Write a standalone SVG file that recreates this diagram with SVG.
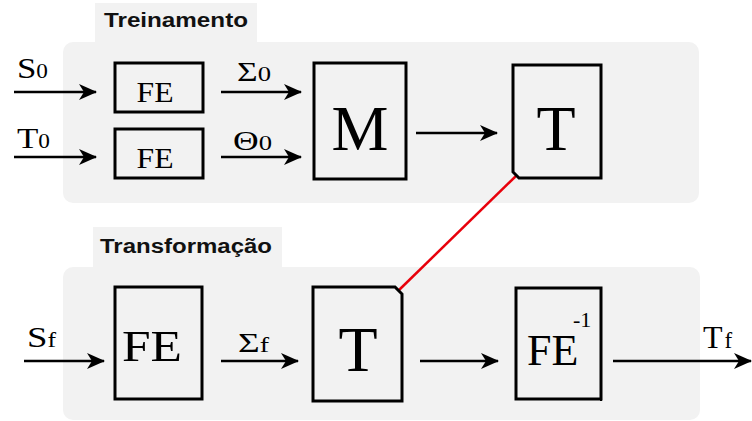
<svg xmlns="http://www.w3.org/2000/svg" width="752" height="421" viewBox="0 0 752 421">
<style>
.panel{fill:#f2f2f2;stroke:none}
.box{fill:none;stroke:#000;stroke-width:3}
.wire{fill:none;stroke:#000;stroke-width:2.5}
.title{font-family:"Liberation Sans",Arial,sans-serif;font-weight:bold;font-size:20px;fill:#111}
.serif{font-family:"Liberation Serif","Times New Roman",serif;fill:#000}
</style>
<defs>
<marker id="ah" markerUnits="userSpaceOnUse" markerWidth="20" markerHeight="16" refX="17" refY="8" orient="auto">
<path d="M0,0 L18,8 L0,16 L5,8 Z" fill="#000"/>
</marker>
</defs>
<g id="panel-treinamento">
<rect class="panel" x="63" y="42" width="636" height="161" rx="10"/>
<rect class="panel" x="95" y="3" width="162" height="42"/>
<text class="title" x="104" y="27" textLength="144" lengthAdjust="spacingAndGlyphs">Treinamento</text>
</g>
<g id="panel-transformacao">
<rect class="panel" x="63" y="267" width="637" height="153" rx="10"/>
<rect class="panel" x="93" y="227" width="189" height="44"/>
<text class="title" x="100" y="253" textLength="172" lengthAdjust="spacingAndGlyphs">Transformação</text>
</g>
<g id="connectors">
<line class="wire" x1="14" y1="92" x2="96" y2="92" marker-end="url(#ah)"/>
<line class="wire" x1="14" y1="157" x2="96" y2="157" marker-end="url(#ah)"/>
<line class="wire" x1="221" y1="92" x2="301" y2="92" marker-end="url(#ah)"/>
<line class="wire" x1="221" y1="157" x2="301" y2="157" marker-end="url(#ah)"/>
<line class="wire" x1="416" y1="133" x2="497" y2="133" marker-end="url(#ah)"/>
<line class="wire" x1="24" y1="361" x2="104" y2="361" marker-end="url(#ah)"/>
<line class="wire" x1="221" y1="361" x2="298" y2="361" marker-end="url(#ah)"/>
<line class="wire" x1="420" y1="361" x2="498" y2="361" marker-end="url(#ah)"/>
<line class="wire" x1="613" y1="361" x2="751" y2="361" marker-end="url(#ah)"/>
<line x1="517" y1="175" x2="398" y2="291" stroke="#e8000b" stroke-width="2.5"/>
<text class="serif" x="17" y="78" font-size="30" textLength="31" lengthAdjust="spacingAndGlyphs">S<tspan font-size="20">0</tspan></text>
<text class="serif" x="17" y="148" font-size="30" textLength="33" lengthAdjust="spacingAndGlyphs">T<tspan font-size="20">0</tspan></text>
<text class="serif" x="237" y="81" font-size="28" textLength="34" lengthAdjust="spacingAndGlyphs">Σ<tspan font-size="21">0</tspan></text>
<text class="serif" x="233" y="150" font-size="28" textLength="39" lengthAdjust="spacingAndGlyphs">Θ<tspan font-size="21">0</tspan></text>
<text class="serif" x="27" y="347" font-size="30" textLength="29" lengthAdjust="spacingAndGlyphs">S<tspan font-size="21">f</tspan></text>
<text class="serif" x="238" y="352" font-size="28" textLength="31" lengthAdjust="spacingAndGlyphs">Σ<tspan font-size="21">f</tspan></text>
<text class="serif" x="703" y="348" font-size="32">T<tspan font-size="23" dx="2">f</tspan></text>
</g>
<g id="node-fe-s0">
<rect class="box" x="115" y="63" width="88" height="49"/>
<text class="serif" x="155" y="102" font-size="30" text-anchor="middle" textLength="37" lengthAdjust="spacingAndGlyphs">FE</text>
</g>
<g id="node-fe-t0">
<rect class="box" x="115" y="129" width="88" height="49"/>
<text class="serif" x="155" y="168" font-size="30" text-anchor="middle" textLength="37" lengthAdjust="spacingAndGlyphs">FE</text>
</g>
<g id="node-m">
<rect class="box" x="314" y="63" width="92" height="116"/>
<text class="serif" x="360" y="150" font-size="64" text-anchor="middle">M</text>
</g>
<g id="node-t-top">
<path class="box" d="M513,65 H601 V178 H519 L513,172 Z"/>
<text class="serif" x="556" y="150" font-size="64" text-anchor="middle">T</text>
</g>
<g id="node-fe-sf">
<rect class="box" x="115" y="287" width="87" height="112"/>
<text class="serif" x="152" y="361" font-size="45" text-anchor="middle" textLength="60" lengthAdjust="spacingAndGlyphs">FE</text>
</g>
<g id="node-t-bottom">
<path class="box" d="M313,287 H395 L402,294 V401 H313 Z"/>
<text class="serif" x="358" y="371" font-size="64" text-anchor="middle">T</text>
</g>
<g id="node-fe-inv">
<rect class="box" x="516" y="288" width="85" height="111"/>
<line x1="601" y1="291" x2="601" y2="401" stroke="#000" stroke-width="2"/>
<text class="serif" x="527" y="365" font-size="44">FE</text>
<text class="serif" x="573" y="327" font-size="22">-1</text>
</g>
</svg>
